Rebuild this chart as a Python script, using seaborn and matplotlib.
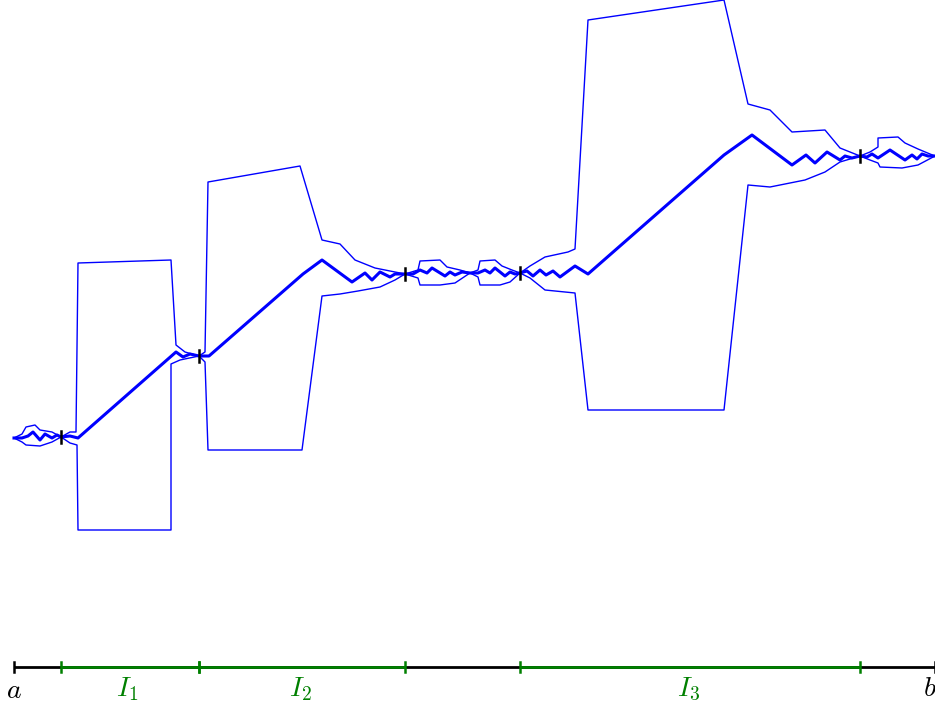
import numpy as np
import pandas as pd
import seaborn as sns
import matplotlib.pyplot as plt

# pixel-space readings from the reference (y grows downwards)
main_x = [14, 22, 28, 33, 40, 45, 52, 57, 61,
          70, 78, 176, 183, 190, 199,
          209, 303, 322, 352, 365, 372, 380, 390, 395, 405,
          413, 420, 427, 432, 445, 450, 455, 462, 470,
          478, 485, 490, 495, 505, 510, 515, 520,
          527, 533, 540, 546, 553, 560, 575, 588, 724, 752, 792, 806, 815, 827, 840, 845, 852, 860,
          867, 872, 878, 890, 905, 912, 917, 922, 928, 935]
main_y = [438, 438, 436, 432, 440, 434, 438, 435, 437,
          436, 438, 352, 357, 354, 356,
          356, 274, 260, 282, 273, 280, 272, 277, 274, 274,
          274, 270, 273, 268, 276, 272, 275, 272, 273,
          273, 270, 273, 268, 276, 272, 274, 273,
          271, 276, 270, 275, 271, 277, 266, 274, 155, 135, 165, 155, 163, 152, 160, 156, 158, 156,
          157, 154, 158, 150, 160, 155, 159, 154, 156, 156]

upper_x = [14, 22, 26, 35, 40, 52, 61,
           70, 76, 78, 171, 176, 185, 199,
           205, 208, 300, 322, 340, 355, 375, 395, 405,
           418, 420, 440, 447, 460, 470,
           478, 480, 495, 502, 512, 520,
           530, 545, 568, 575, 588, 724, 748, 770, 792, 825, 840, 850, 860,
           870, 878, 878, 898, 905, 918, 930, 935]
upper_y = [438, 434, 427, 425, 430, 432, 437,
           432, 432, 263, 260, 345, 352, 356,
           352, 182, 166, 240, 244, 260, 268, 272, 274,
           270, 261, 260, 267, 270, 273,
           270, 261, 260, 266, 270, 273,
           266, 257, 252, 249, 20, 0, 104, 110, 132, 130, 148, 152, 156,
           152, 147, 138, 137, 143, 149, 154, 156]

lower_x = [14, 22, 26, 40, 52, 61,
           70, 77, 78, 171, 171, 180, 199,
           205, 208, 302, 322, 340, 358, 380, 395, 405,
           418, 420, 440, 455, 470,
           478, 480, 500, 510, 520,
           530, 545, 575, 588, 724, 748, 770, 805, 825, 840, 860,
           870, 878, 880, 902, 918, 935]
lower_y = [438, 442, 445, 446, 442, 437,
           443, 445, 530, 530, 364, 360, 356,
           362, 450, 450, 296, 294, 291, 287, 280, 274,
           278, 285, 285, 283, 273,
           277, 285, 285, 282, 273,
           278, 290, 293, 410, 410, 185, 187, 180, 172, 162, 156,
           160, 163, 167, 168, 165, 156]

knot_x = [61, 199, 405, 520, 860]
knot_y = [437, 356, 274, 273, 156]

axis_y = 667
axis_ends = [14, 935]
interval_edges = [(61, 199), (199, 405), (520, 860)]
interval_labels = ['$I_1$', '$I_2$', '$I_3$']
end_labels = ['$a$', '$b$']

plt.rcParams['mathtext.fontset'] = 'cm'

fig = plt.figure(figsize=(9.35, 7.07), dpi=100)
ax = fig.add_axes([0, 0, 1, 1])

for xs, ys, lw in [(upper_x, upper_y, 1.0), (lower_x, lower_y, 1.0), (main_x, main_y, 2.2)]:
    df = pd.DataFrame({'x': xs, 'y': ys})
    sns.lineplot(data=df, x='x', y='y', sort=False, estimator=None,
                 color='#0000ff', linewidth=lw, ax=ax)

for kx, ky in zip(knot_x, knot_y):
    ax.plot([kx, kx], [ky - 6, ky + 6], color='black', linewidth=1.8)

# base axis with intervals
ax.plot(axis_ends, [axis_y, axis_y], color='black', linewidth=2, solid_capstyle='butt')
for x0, x1 in interval_edges:
    ax.plot([x0, x1], [axis_y, axis_y], color='green', linewidth=2, solid_capstyle='butt')
for ex in axis_ends:
    ax.plot([ex, ex], [axis_y - 5, axis_y + 5], color='black', linewidth=1.8)
for x0, x1 in interval_edges:
    for ex in (x0, x1):
        ax.plot([ex, ex], [axis_y - 5, axis_y + 5], color='green', linewidth=1.8)

label_x = [127, 300, 689]
for lx, lab in zip(label_x, interval_labels):
    ax.text(lx, 689, lab, color='green', ha='center', va='center', fontsize=20)
ax.text(axis_ends[0], 690, end_labels[0], ha='center', va='center', fontsize=20)
ax.text(axis_ends[1] - 5, 688, end_labels[1], ha='center', va='center', fontsize=20)

ax.set_xlim(0, 935)
ax.set_ylim(707, 0)
ax.axis('off')
fig.savefig('out.png', dpi=100)
